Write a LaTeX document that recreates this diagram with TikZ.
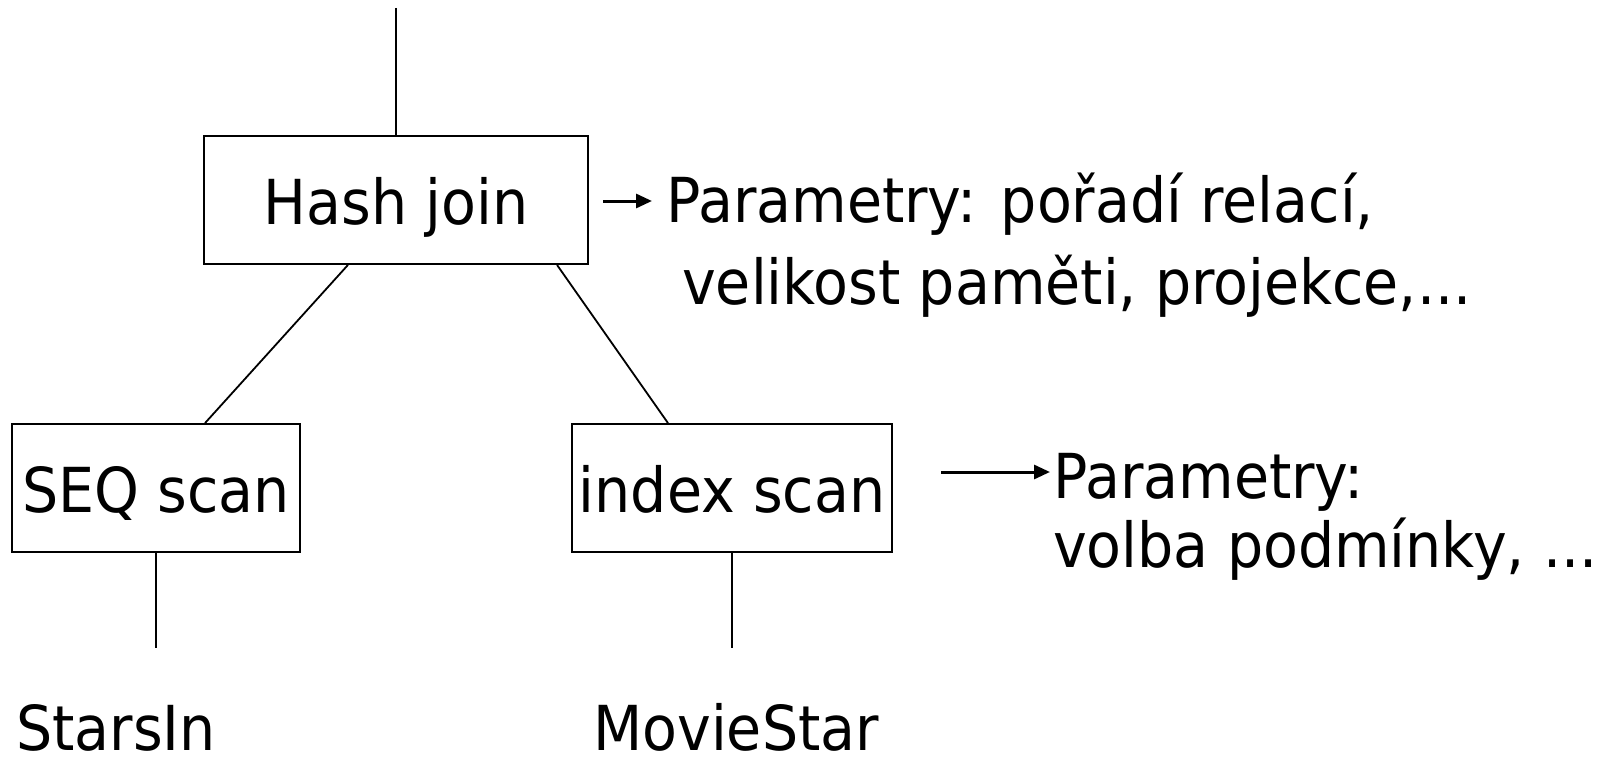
\documentclass[tikz,border=0pt]{standalone}
\usepackage{fontspec}
\setmainfont{DejaVu Sans}[FakeStretch=0.92]
\usetikzlibrary{arrows.meta}
\begin{document}
\begin{tikzpicture}[x=1pt,y=-1pt,
  box/.style={draw, line width=1.8pt, rectangle, inner sep=0pt, minimum height=128pt,
    text height=48pt, text depth=0pt, font=\fontsize{62}{74}\selectfont},
  lbl/.style={anchor=base west, inner sep=0pt, font=\fontsize{62}{74}\selectfont},
  conn/.style={line width=1.8pt},
  arr/.style={line width=3pt, -{Triangle[length=16pt,width=14pt]}}]
\useasboundingbox (0,0) rectangle (1604,757);
\node[box, minimum width=384pt] (hash) at (396,200) {Hash join};
\node[box, minimum width=288pt] (seq) at (156,488) {SEQ scan};
\node[box, minimum width=320pt] (idx) at (732,488) {index scan};
\coordinate (top) at (396,8);
\coordinate (seqend) at (156,648);
\coordinate (idxend) at (732,648);
\node[lbl] (stars) at (16,750) {StarsIn};
\node[lbl] (movie) at (593,750) {MovieStar};
\node[lbl] (p1a) at (666,222) {Parametry: pořadí relací,};
\node[lbl] (p1b) at (682,304) {velikost paměti, projekce,...};
\node[lbl] (p2a) at (1053,498) {Parametry:};
\node[lbl] (p2b) at (1053,567) {volba podmínky, ...};
\coordinate (a1s) at (603,201);
\coordinate (a1e) at (652,201);
\coordinate (a2s) at (941,472);
\coordinate (a2e) at (1050,472);
\draw[conn] (top) -- (hash.north);
\draw[conn] ([xshift=-48pt]hash.south) -- ([xshift=49pt]seq.north);
\draw[conn] ([xshift=161pt]hash.south) -- ([xshift=-64pt]idx.north);
\draw[conn] (seq.south) -- (seqend);
\draw[conn] (idx.south) -- (idxend);
\draw[arr] (a1s) -- (a1e);
\draw[arr] (a2s) -- (a2e);
\end{tikzpicture}
\end{document}
